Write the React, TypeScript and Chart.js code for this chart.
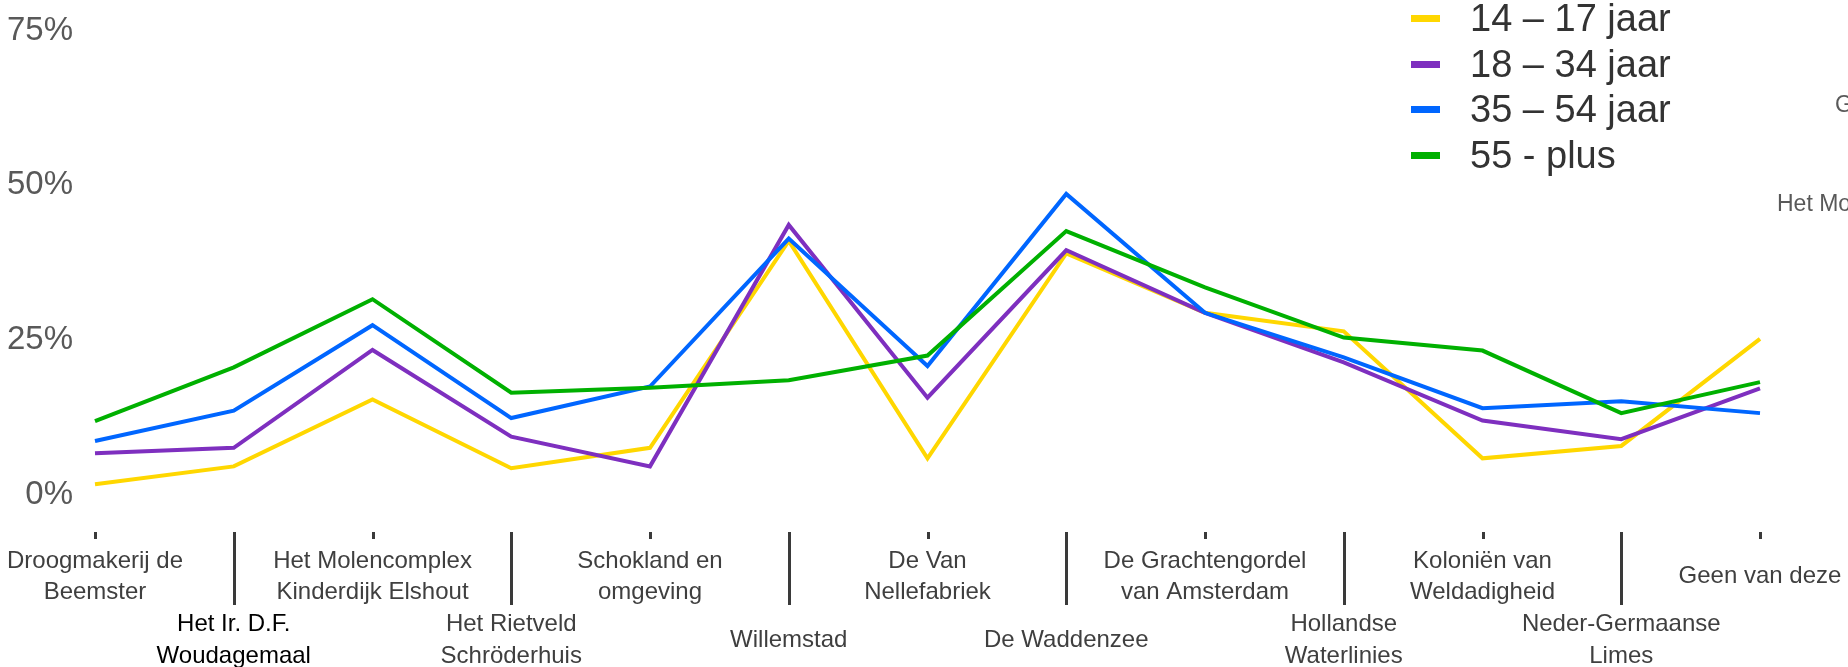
import { useEffect, useRef } from 'react';
import { Chart, registerables } from 'chart.js';

Chart.register(...registerables);

const FONT = '"Liberation Sans", Arial, sans-serif';

const categories: string[][] = [
  ['Droogmakerij de', 'Beemster'],
  ['Het Ir. D.F.', 'Woudagemaal'],
  ['Het Molencomplex', 'Kinderdijk Elshout'],
  ['Het Rietveld', 'Schröderhuis'],
  ['Schokland en', 'omgeving'],
  ['Willemstad'],
  ['De Van', 'Nellefabriek'],
  ['De Waddenzee'],
  ['De Grachtengordel', 'van Amsterdam'],
  ['Hollandse', 'Waterlinies'],
  ['Koloniën van', 'Weldadigheid'],
  ['Neder-Germaanse', 'Limes'],
  ['Geen van deze'],
];

const seriesNames = ['14 – 17 jaar', '18 – 34 jaar', '35 – 54 jaar', '55 - plus'];
const seriesColors = ['#FFD700', '#7E2FBF', '#0066FF', '#00B000'];

const age14to17 = [1.3, 4.2, 15.0, 3.9, 7.2, 40.6, 5.5, 38.6, 29.0, 26.0, 5.5, 7.5, 24.8];
const age18to34 = [6.3, 7.2, 23.0, 9.0, 4.2, 43.2, 15.3, 39.1, 29.0, 21.0, 11.6, 8.6, 16.8];
const age35to54 = [8.3, 13.2, 27.0, 12.0, 17.1, 41.0, 20.4, 48.2, 29.0, 21.8, 13.6, 14.7, 12.8];
const age55plus = [11.5, 20.2, 31.2, 16.1, 16.9, 18.1, 22.1, 42.2, 33.1, 25.0, 22.9, 12.8, 17.8];

const yTicks = [0, 25, 50, 75];

// two staggered label rows (even index: upper row, odd index: lower row)
function staggerLabel(lines: string[], i: number): string[] {
  if (i % 2 === 0) {
    return lines.length === 2 ? [lines[0], '', lines[1]] : ['', lines[0]];
  }
  return lines.length === 2
    ? ['', '', '', '', lines[0], '', lines[1]]
    : ['', '', '', '', '', lines[0]];
}

const tickMarks = {
  id: 'tickMarks',
  afterDraw(chart: any) {
    const x = chart.scales.x;
    const ctx = chart.ctx;
    ctx.save();
    ctx.strokeStyle = '#3a3a3a';
    ctx.lineWidth = 3;
    for (let i = 0; i < categories.length; i++) {
      const px = Math.round(x.getPixelForTick(i)) + 0.5;
      const len = i % 2 === 0 ? 7 : 73;
      ctx.beginPath();
      ctx.moveTo(px, x.top);
      ctx.lineTo(px, x.top + len);
      ctx.stroke();
    }
    ctx.restore();
  },
};

export default function App() {
  const ref = useRef<HTMLCanvasElement>(null);

  useEffect(() => {
    if (!ref.current) return;
    Chart.defaults.font.family = FONT;
    const series = [age14to17, age18to34, age35to54, age55plus];
    const chart = new Chart(ref.current, {
      type: 'line',
      data: {
        labels: categories.map((c, i) => staggerLabel(c, i)),
        datasets: series.map((d, i) => ({
          label: seriesNames[i],
          data: d,
          borderColor: seriesColors[i],
          backgroundColor: seriesColors[i],
          borderWidth: 4,
          pointRadius: 0,
          pointHoverRadius: 0,
          tension: 0,
          fill: false,
          order: 4 - i,
        })),
      },
      options: {
        responsive: false,
        animation: false,
        devicePixelRatio: 1,
        layout: { padding: { top: 28, right: 88, bottom: 0, left: 0 } },
        plugins: {
          legend: { display: false },
          tooltip: { enabled: false },
        },
        scales: {
          x: {
            type: 'category',
            offset: false,
            grid: { display: false, drawTicks: true, tickLength: 21 },
            border: { display: false },
            ticks: {
              autoSkip: false,
              maxRotation: 0,
              minRotation: 0,
              padding: 0,
              color: (c: any) => (c.index === 1 ? '#000000' : '#3f3f3f'),
              font: { size: 24, lineHeight: '15.9px', family: FONT },
            },
            afterFit: (s: any) => {
              s.height = 135;
            },
          },
          y: {
            min: -6.4,
            max: 75,
            grid: { display: false, drawTicks: true, tickLength: 22 },
            border: { display: false },
            afterBuildTicks: (s: any) => {
              s.ticks = yTicks.map((v) => ({ value: v }));
            },
            afterFit: (s: any) => {
              s.width = 95;
            },
            ticks: {
              padding: 0,
              labelOffset: 2.5,
              color: '#595959',
              font: { size: 33, family: FONT },
              callback: (v: any) => `${v}%`,
            },
          },
        },
      },
      plugins: [tickMarks],
    });
    return () => chart.destroy();
  }, []);

  return (
    <div
      style={{
        position: 'fixed',
        left: 0,
        top: 0,
        width: 1848,
        height: 667,
        overflow: 'hidden',
        background: '#ffffff',
      }}
    >
      <canvas ref={ref} width={1848} height={667} style={{ display: 'block' }} />
      <div
        style={{
          position: 'absolute',
          left: 1411,
          top: -4,
          fontFamily: FONT,
          fontSize: 38,
          color: '#333333',
        }}
      >
        {seriesNames.map((n, i) => (
          <div
            key={n}
            style={{
              display: 'flex',
              alignItems: 'center',
              height: 45.5,
              lineHeight: '45.5px',
              whiteSpace: 'nowrap',
            }}
          >
            <span
              style={{
                display: 'inline-block',
                width: 29,
                height: 7,
                background: seriesColors[i],
                marginRight: 30,
              }}
            />
            {n}
          </div>
        ))}
      </div>
      <div
        style={{
          position: 'absolute',
          left: 1835,
          top: 91,
          fontFamily: FONT,
          fontSize: 23,
          color: '#595959',
          whiteSpace: 'nowrap',
        }}
      >
        Geen van deze
      </div>
      <div
        style={{
          position: 'absolute',
          left: 1777,
          top: 190,
          fontFamily: FONT,
          fontSize: 23,
          color: '#595959',
          whiteSpace: 'nowrap',
        }}
      >
        Het Molencomplex Kinderdijk Elshout
      </div>
    </div>
  );
}
